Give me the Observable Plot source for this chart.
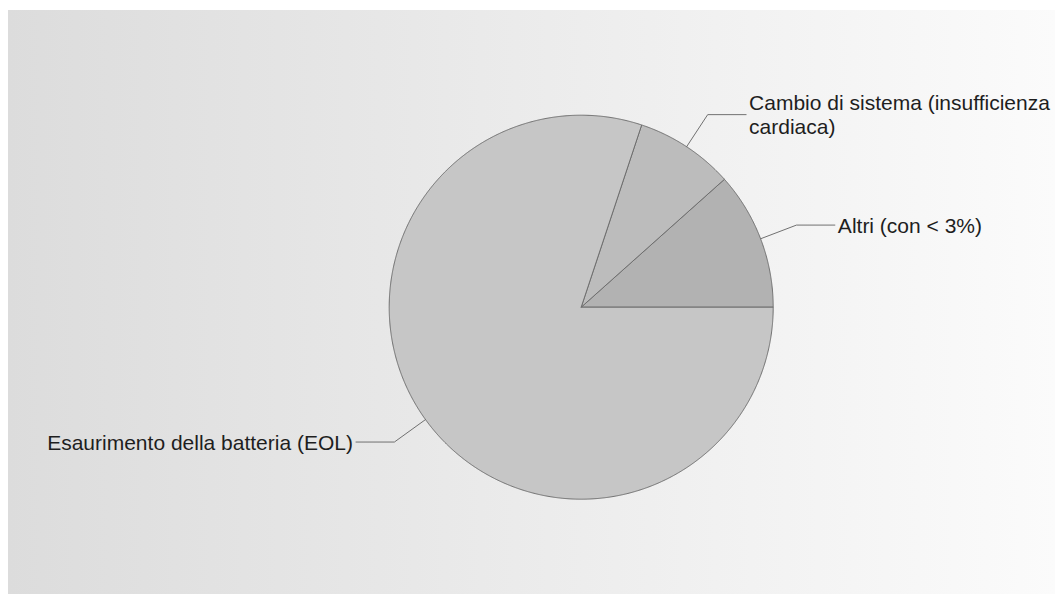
<!DOCTYPE html>
<html><head><meta charset="utf-8">
<script src="https://cdn.jsdelivr.net/npm/d3@7"></script>
<script src="https://cdn.jsdelivr.net/npm/@observablehq/plot@0.6"></script>
<style>
html,body{margin:0;padding:0;background:#fff;}
#chart{width:1055px;height:594px;position:relative;overflow:hidden;
background: linear-gradient(to right,#dcdcdc,#fbfbfb) 8px 10px / 1047px 584px no-repeat, #fff;}
</style></head><body><div id="chart"></div>
<script>
// Data (slices drawn counterclockwise from 3 o'clock)
const categories = ["Altri (con < 3%)", "Cambio di sistema (insufficienza\ncardiaca)", "Esaurimento della batteria (EOL)"];
const values = [11.6, 8.3, 80.1];
const colors = ["#b2b2b2", "#bcbcbc", "#c6c6c6"];

const W = 1055, H = 594, cx = 580.7, cy = 306.7, R = 192;
const total = d3.sum(values);

// Build wedge outlines in unit-circle coordinates from the values
let acc = 0;
const slices = values.map((v, i) => {
  const a0 = acc / total * 2 * Math.PI;
  acc += v;
  const a1 = acc / total * 2 * Math.PI;
  const pts = [{x: 0, y: 0}];
  const n = Math.max(2, Math.ceil((a1 - a0) / 0.005));
  for (let k = 0; k <= n; k++) {
    const a = a0 + (a1 - a0) * k / n;
    pts.push({x: Math.cos(a), y: Math.sin(a)});
  }
  pts.push({x: 0, y: 0});
  const mid = (a0 + a1) / 2;
  const right = Math.cos(mid) >= 0;
  const bx = 1.2 * Math.cos(mid), by = 1.2 * Math.sin(mid);
  const ex = bx + (right ? 0.2 : -0.2);
  return {
    label: categories[i], color: colors[i], pts, right,
    leader: [
      {label: categories[i], x: Math.cos(mid), y: Math.sin(mid)},
      {label: categories[i], x: bx, y: by},
      {label: categories[i], x: ex, y: by}
    ],
    text: {label: categories[i], x: ex, y: by}
  };
});

const font = "Arial, 'Liberation Sans', sans-serif";
const marks = [];
for (const s of slices) {
  marks.push(Plot.line(s.pts, {x: "x", y: "y", fill: s.color, stroke: "#6e6e6e", strokeWidth: 1, curve: "linear"}));
}
for (const s of slices) {
  marks.push(Plot.line(s.leader, {x: "x", y: "y", stroke: "#707070", strokeWidth: 1}));
}
marks.push(Plot.text(slices.filter(s => s.right).map(s => s.text), {
  x: "x", y: "y", text: "label", textAnchor: "start", dx: 3, lineAnchor: "middle",
  lineHeight: 1.14, fontSize: 21, fill: "#1e1e1e", fontFamily: font
}));
marks.push(Plot.text(slices.filter(s => !s.right).map(s => s.text), {
  x: "x", y: "y", text: "label", textAnchor: "end", dx: -3, lineAnchor: "middle",
  lineHeight: 1.14, fontSize: 21, fill: "#1e1e1e", fontFamily: font
}));

const chart = Plot.plot({
  width: W, height: H,
  marginTop: 0, marginRight: 0, marginBottom: 0, marginLeft: 0,
  x: {domain: [-cx / R, (W - cx) / R], range: [0, W], axis: null},
  y: {domain: [-(H - cy) / R, cy / R], range: [H, 0], axis: null},
  style: {background: "transparent", overflow: "visible", fontFamily: font},
  marks
});
document.getElementById("chart").appendChild(chart);
</script>
</body></html>
